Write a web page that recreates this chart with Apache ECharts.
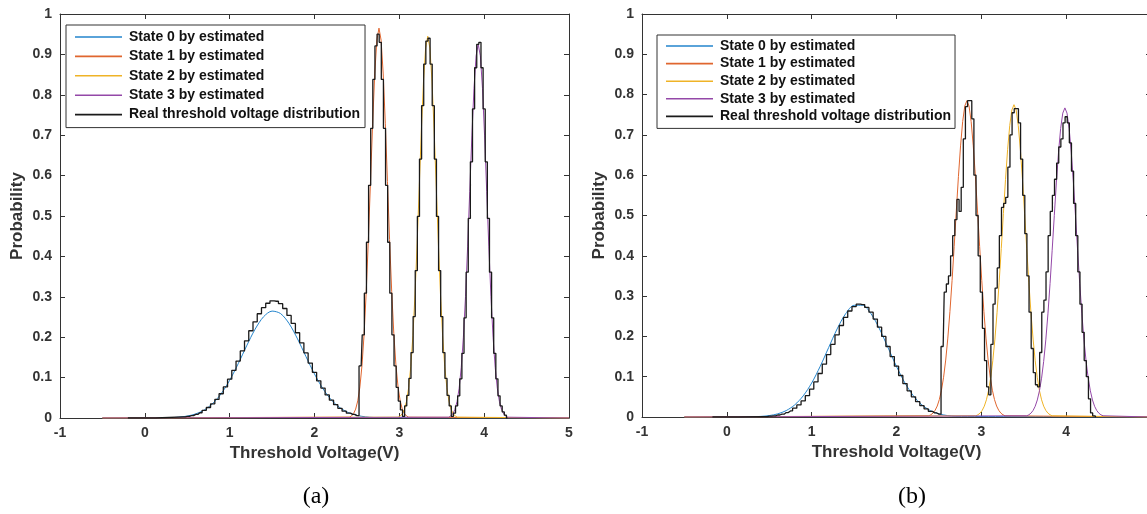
<!DOCTYPE html>
<html>
<head>
<meta charset="utf-8">
<script src="https://cdn.jsdelivr.net/npm/echarts@6/dist/echarts.min.js"></script>
<style>
  html, body { margin: 0; padding: 0; background: #fff; }
  #main { width: 1147px; height: 514px; }
</style>
</head>
<body>
<div id="main"></div>
<script>
const names = ['State 0 by estimated', 'State 1 by estimated', 'State 2 by estimated', 'State 3 by estimated', 'Real threshold voltage distribution'];
const colors = ['#2384cc', '#e0662f', '#efb327', '#9448a8', '#1a1a1a'];
const captions = ['(a)', '(b)'];

// estimated curves run flat at 0 from baseFrom to baseTo
const baseFrom = -0.5;
const baseTo = 5;
const fineStep = 0.025;   // peaks and histogram bins (right part)
const coarseStep = 0.1;   // state 0 estimate
const lowBin = 0.05;      // histogram bins under state 0

// ---------- panel (a) ----------
const state0A = [0.0008, 0.0021, 0.0048, 0.0101, 0.0198, 0.0359, 0.0602, 0.0934, 0.1341, 0.1785, 0.2199, 0.2507, 0.2646,
  0.2585, 0.2339, 0.1958, 0.1518, 0.1089, 0.0724, 0.0445, 0.0254, 0.0134, 0.0065, 0.0029, 0.0012];
const state0AStart = 0.3;
const state1A = [0.0021, 0.0049, 0.0107, 0.0220, 0.0424, 0.0768, 0.1306, 0.2087, 0.3133, 0.4418, 0.5853, 0.7284, 0.8516, 0.9353, 0.965,
  0.9353, 0.8516, 0.7284, 0.5853, 0.4418, 0.3133, 0.2087, 0.1306, 0.0768, 0.0424, 0.0220, 0.0107, 0.0049, 0.0021];
const state1AStart = 2.41;
const state2A = [0.0021, 0.0048, 0.0105, 0.0215, 0.0415, 0.0752, 0.1279, 0.2044, 0.3068, 0.4326, 0.5731, 0.7133, 0.8340, 0.9159, 0.945,
  0.9159, 0.8340, 0.7133, 0.5731, 0.4326, 0.3068, 0.2044, 0.1279, 0.0752, 0.0415, 0.0215, 0.0105, 0.0048, 0.0021];
const state2AStart = 2.985;
const state3A = [0.0020, 0.0047, 0.0103, 0.0211, 0.0406, 0.0736, 0.1252, 0.2001, 0.3003, 0.4235, 0.5610, 0.6982, 0.8163, 0.8965, 0.925,
  0.8965, 0.8163, 0.6982, 0.5610, 0.4235, 0.3003, 0.2001, 0.1252, 0.0736, 0.0406, 0.0211, 0.0103, 0.0047, 0.0020];
const state3AStart = 3.58;

const realAFrom = -0.2;
const realALowStart = 0.45;
const realALow = [0.003, 0.004, 0.006, 0.009, 0.013, 0.019, 0.026, 0.035, 0.046, 0.060, 0.077, 0.096, 0.118, 0.141, 0.166,
  0.191, 0.216, 0.238, 0.258, 0.273, 0.284, 0.290, 0.289, 0.283, 0.271, 0.254, 0.234, 0.211, 0.186, 0.161, 0.136,
  0.113, 0.092, 0.074, 0.057, 0.044, 0.033, 0.024, 0.017, 0.012, 0.009, 0.006];
const realAHighStart = 2.55;
const realAHigh = [0.129, 0.206, 0.309, 0.435, 0.576, 0.717, 0.838, 0.921, 0.950, 0.930, 0.838, 0.717, 0.576, 0.435, 0.309,
  0.206, 0.129, 0.076, 0.042, 0.020, 0.004, 0.030, 0.056, 0.098, 0.162, 0.251, 0.365, 0.499, 0.641, 0.773, 0.876,
  0.933, 0.940, 0.876, 0.773, 0.641, 0.499, 0.365, 0.251, 0.162, 0.098, 0.056, 0.030, 0.004, 0.012, 0.030, 0.055,
  0.097, 0.160, 0.248, 0.361, 0.494, 0.634, 0.765, 0.867, 0.925, 0.930, 0.867, 0.765, 0.634, 0.494, 0.361, 0.248,
  0.160, 0.097, 0.055, 0.030, 0.015, 0.007];
const realATo = 4.275;

// ---------- panel (b) ----------
const state0B = [0.0006, 0.0015, 0.0035, 0.0078, 0.0159, 0.0300, 0.0524, 0.0843, 0.1254, 0.1722, 0.2185, 0.2561, 0.2772,
  0.2772, 0.2561, 0.2185, 0.1722, 0.1254, 0.0843, 0.0524, 0.0300, 0.0159, 0.0078, 0.0035, 0.0015];
const state0BStart = 0.3;
const state1B = [0.0030, 0.0055, 0.0097, 0.0166, 0.0272, 0.0433, 0.0665, 0.0986, 0.1413, 0.1958, 0.2620, 0.3388, 0.4234, 0.5113,
  0.5967, 0.6727, 0.7330, 0.7717, 0.785, 0.7717, 0.7330, 0.6727, 0.5967, 0.5113, 0.4234, 0.3388, 0.2620, 0.1958, 0.1413,
  0.0986, 0.0665, 0.0433, 0.0272, 0.0166, 0.0097, 0.0055, 0.0030];
const state1BStart = 2.38;
const state2B = [0.0030, 0.0055, 0.0096, 0.0164, 0.0269, 0.0427, 0.0656, 0.0973, 0.1395, 0.1933, 0.2586, 0.3345, 0.4180, 0.5048,
  0.5891, 0.6642, 0.7236, 0.7618, 0.775, 0.7618, 0.7236, 0.6642, 0.5891, 0.5048, 0.4180, 0.3345, 0.2586, 0.1933, 0.1395,
  0.0973, 0.0656, 0.0427, 0.0269, 0.0164, 0.0096, 0.0055, 0.0030];
const state2BStart = 2.935;
const state3B = [0.0030, 0.0054, 0.0095, 0.0162, 0.0266, 0.0423, 0.0650, 0.0963, 0.1381, 0.1913, 0.2559, 0.3310, 0.4137, 0.4995,
  0.5830, 0.6573, 0.7161, 0.7540, 0.767, 0.7540, 0.7161, 0.6573, 0.5830, 0.4995, 0.4137, 0.3310, 0.2559, 0.1913, 0.1381,
  0.0963, 0.0650, 0.0423, 0.0266, 0.0162, 0.0095, 0.0054, 0.0030];
const state3BStart = 3.535;

const realBFrom = -0.17;
const realBLowStart = 0.45;
const realBLow = [0.001, 0.002, 0.003, 0.005, 0.007, 0.011, 0.015, 0.022, 0.030, 0.040, 0.053, 0.069, 0.087, 0.108, 0.131,
  0.155, 0.180, 0.204, 0.227, 0.247, 0.263, 0.274, 0.280, 0.279, 0.272, 0.260, 0.243, 0.223, 0.200, 0.175, 0.150,
  0.126, 0.103, 0.083, 0.065, 0.050, 0.038, 0.028, 0.020, 0.014, 0.010, 0.007];
const realBHighStart = 2.55;
const realBHigh = [0.175, 0.31, 0.33, 0.35, 0.40, 0.45, 0.49, 0.54, 0.51, 0.57, 0.69, 0.77, 0.785, 0.785, 0.74, 0.60,
  0.50, 0.40, 0.31, 0.22, 0.14, 0.075, 0.055, 0.18, 0.28, 0.32, 0.37, 0.45, 0.52, 0.53, 0.545, 0.62, 0.70, 0.755,
  0.765, 0.765, 0.73, 0.64, 0.55, 0.455, 0.35, 0.26, 0.17, 0.11, 0.08, 0.075, 0.16, 0.26, 0.29, 0.36, 0.45, 0.51,
  0.55, 0.59, 0.63, 0.67, 0.69, 0.73, 0.745, 0.73, 0.68, 0.61, 0.53, 0.45, 0.36, 0.28, 0.21, 0.14, 0.10, 0.045,
  0.01, 0.003];
const realBTo = 4.35;

const font = '"Liberation Sans", Arial, sans-serif';

function pairs(start, step, values) {
  return values.map((v, i) => [+(start + i * step).toFixed(4), v]);
}

function estimate(start, step, values) {
  return [[baseFrom, 0]].concat(pairs(start, step, values), [[baseTo, 0]]);
}

function real(from, lowStart, low, highStart, high, to) {
  return [[from, 0]].concat(pairs(lowStart, lowBin, low), pairs(highStart, fineStep, high), [[to, 0]]);
}

function xAxis(grid, position, main) {
  return {
    type: 'value', gridIndex: grid, position: position,
    min: -1, max: 5, interval: 1,
    axisLine: { show: true, onZero: false, lineStyle: { color: '#333', width: 1 } },
    axisTick: { show: true, inside: true, length: 5, lineStyle: { color: '#333' } },
    axisLabel: { show: main, margin: 8, fontSize: 14, fontWeight: 'bold', color: '#333', fontFamily: font },
    splitLine: { show: false },
    name: main ? 'Threshold Voltage(V)' : '',
    nameLocation: 'middle', nameGap: 26,
    nameTextStyle: { fontSize: 17, fontWeight: 'bold', color: '#333', fontFamily: font }
  };
}

function yAxis(grid, position, main) {
  return {
    type: 'value', gridIndex: grid, position: position,
    min: 0, max: 1, interval: 0.1,
    axisLine: { show: true, onZero: false, lineStyle: { color: '#333', width: 1 } },
    axisTick: { show: true, inside: true, length: 5, lineStyle: { color: '#333' } },
    axisLabel: { show: main, margin: 8, fontSize: 14, fontWeight: 'bold', color: '#333', fontFamily: font },
    splitLine: { show: false },
    name: main ? 'Probability' : '',
    nameLocation: 'middle', nameGap: 34,
    nameTextStyle: { fontSize: 17, fontWeight: 'bold', color: '#333', fontFamily: font }
  };
}

function line(name, axis, data, color, extra) {
  return Object.assign({
    type: 'line', name: name, xAxisIndex: axis, yAxisIndex: axis,
    data: data, symbol: 'none', color: color,
    lineStyle: { width: 1, color: color }
  }, extra || {});
}

function panelSeries(axis, s0, s0Start, s1, s1Start, s2, s2Start, s3, s3Start, realData) {
  return [
    line(names[0], axis, estimate(s0Start, coarseStep, s0), colors[0], { smooth: 0.3 }),
    line(names[1], axis, estimate(s1Start, fineStep, s1), colors[1]),
    line(names[2], axis, estimate(s2Start, fineStep, s2), colors[2]),
    line(names[3], axis, estimate(s3Start, fineStep, s3), colors[3]),
    line(names[4], axis, realData, colors[4], { step: 'middle', lineStyle: { width: 1.3, color: colors[4] } })
  ];
}

function legend(left, top, gap, padding) {
  return {
    left: left, top: top, orient: 'vertical', align: 'left',
    icon: 'rect', itemWidth: 47, itemHeight: 1.6, itemGap: gap,
    padding: padding,
    borderColor: '#333', borderWidth: 1, borderRadius: 0, backgroundColor: '#fff',
    textStyle: { fontFamily: font, fontSize: 14, fontWeight: 'bold', color: '#111', lineHeight: 14, padding: [0, 0, 0, 2] },
    data: names
  };
}

const chart = echarts.init(document.getElementById('main'));

const option = {
  animation: false,
  backgroundColor: '#fff',
  grid: [
    { left: 60, top: 14, width: 509, height: 404, outerBoundsMode: 'none' },
    { left: 642, top: 14, width: 509, height: 403, outerBoundsMode: 'none' }
  ],
  xAxis: [xAxis(0, 'bottom', true), xAxis(1, 'bottom', true), xAxis(0, 'top', false), xAxis(1, 'top', false)],
  yAxis: [yAxis(0, 'left', true), yAxis(1, 'left', true), yAxis(0, 'right', false), yAxis(1, 'right', false)],
  legend: [
    legend(66, 25, 5.4, [5, 5, 6, 9]),
    legend(657, 35, 3.6, [4, 4, 5, 9])
  ],
  series: panelSeries(0, state0A, state0AStart, state1A, state1AStart, state2A, state2AStart, state3A, state3AStart,
      real(realAFrom, realALowStart, realALow, realAHighStart, realAHigh, realATo))
    .concat(panelSeries(1, state0B, state0BStart, state1B, state1BStart, state2B, state2BStart, state3B, state3BStart,
      real(realBFrom, realBLowStart, realBLow, realBHighStart, realBHigh, realBTo))),
  graphic: [
    { type: 'text', x: 316, y: 497, style: { text: captions[0], font: '24px "Liberation Serif", "Times New Roman", serif', fill: '#000', textAlign: 'center', textVerticalAlign: 'middle' } },
    { type: 'text', x: 912, y: 497, style: { text: captions[1], font: '24px "Liberation Serif", "Times New Roman", serif', fill: '#000', textAlign: 'center', textVerticalAlign: 'middle' } }
  ]
};

chart.setOption(option);
</script>
</body>
</html>
